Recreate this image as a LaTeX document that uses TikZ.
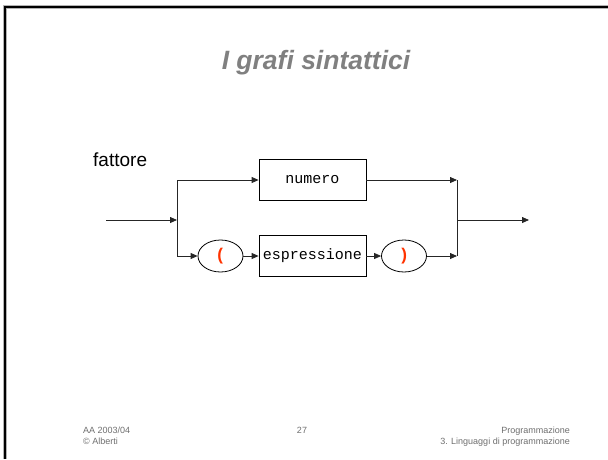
\documentclass[tikz,border=0pt]{standalone}
\usepackage{fontspec}
\setmainfont{Liberation Sans}
\newfontfamily\courier{Liberation Mono}
\usetikzlibrary{arrows.meta,shapes.geometric}
\definecolor{titlegray}{RGB}{128,128,128}
\definecolor{footgray}{RGB}{110,110,110}
\definecolor{parred}{RGB}{255,51,0}
\tikzset{
  conn/.style={line width=0.8pt, draw=black!85},
  arr/.style={conn, -{Triangle[length=7pt,width=6pt]}},
  termbox/.style={draw, line width=0.8pt, minimum width=107pt, minimum height=41pt, inner sep=0pt, font=\courier\fontsize{15}{15}\selectfont},
  termell/.style={draw, ellipse, line width=0.8pt, minimum width=45pt, minimum height=32pt, inner sep=0pt, text=parred, font=\courier\bfseries\fontsize{17}{17}\selectfont},
  foot/.style={font=\fontsize{9}{10.5}\selectfont, text=footgray, inner sep=0pt}
}
\begin{document}
\begin{tikzpicture}[x=1pt,y=-1pt]
\useasboundingbox (0,0) rectangle (608,459);
% frame
\draw[line width=4pt, draw=gray!60] (5,459) -- (5,7) -- (608,7);
\draw[line width=2.2pt, draw=black] (5,459) -- (5,7) -- (608,7);
% title
\node[font=\bfseries\itshape\fontsize{26.5}{26.5}\selectfont, text=titlegray, anchor=base] (title) at (316,69) {I grafi sintattici};
% label
\node[font=\fontsize{19}{19}\selectfont, anchor=base west, inner sep=0pt] (lab) at (93,166) {fattore};
% terms
\node[termbox] (num) at (312.5,180) {numero};
\node[termbox] (esp) at (312.5,256) {espressione};
\node[termell] (lp) at (220.5,256) {(};
\node[termell] (rp) at (404,256) {)};
% junctions
\coordinate (in) at (106,220);
\coordinate (jl) at (177,220);
\coordinate (jlt) at (177,180);
\coordinate (jlb) at (177,256);
\coordinate (jr) at (457,220);
\coordinate (jrt) at (457,180);
\coordinate (jrb) at (457,256);
\coordinate (out) at (529,220);
\draw[arr] (in) -- (jl);
\draw[conn] (jlt) -- (jlb);
\draw[arr] (jlt) -- (num.west);
\draw[arr] (jlb) -- (lp.west);
\draw[arr] (lp.east) -- (esp.west);
\draw[arr] (esp.east) -- (rp.west);
\draw[arr] (num.east) -- (jrt);
\draw[arr] (rp.east) -- (jrb);
\draw[conn] (jrt) -- (jrb);
\draw[arr] (jr) -- (out);
% footer
\node[foot, anchor=north west, align=left] (fl) at (83,427) {AA 2003/04\\\textcopyright{} Alberti};
\node[foot, anchor=north] (fc) at (302,427) {27};
\node[foot, anchor=north east, align=right] (fr) at (570,427) {Programmazione\\3. Linguaggi di programmazione};
\end{tikzpicture}
\end{document}
